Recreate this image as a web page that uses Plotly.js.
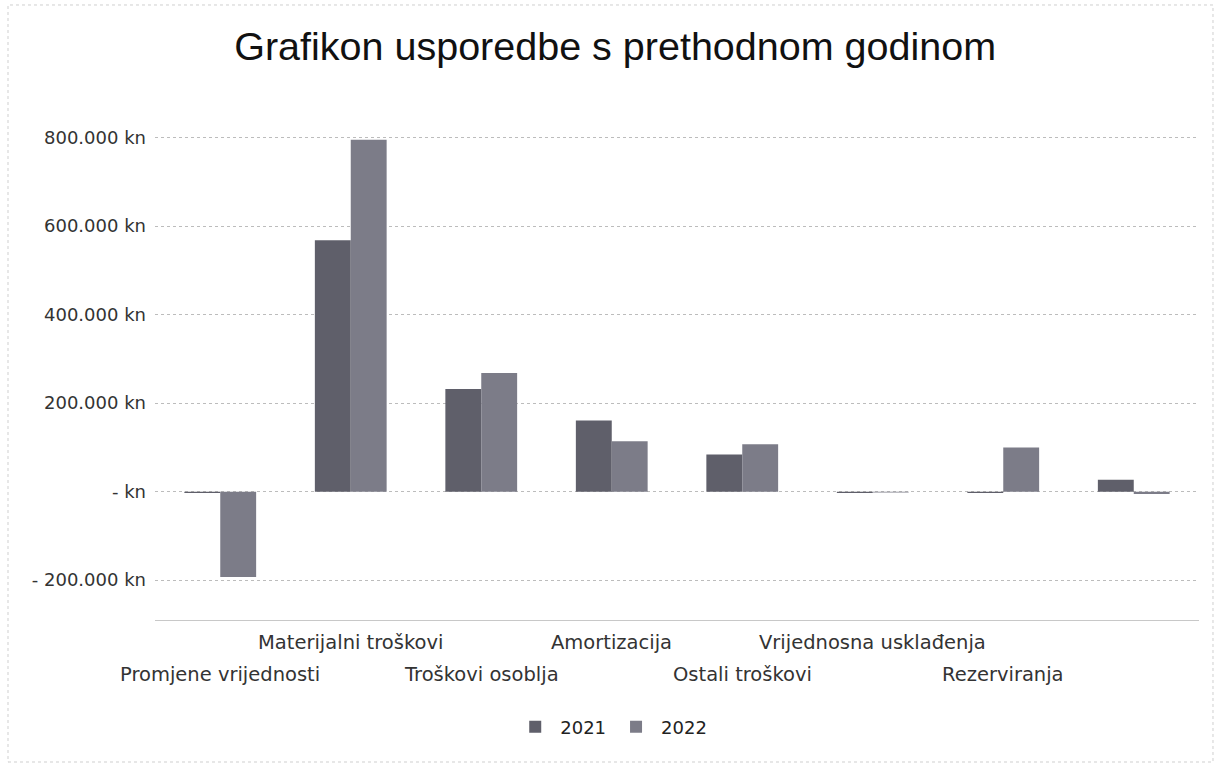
<!DOCTYPE html>
<html>
<head>
<meta charset="utf-8">
<script src="https://cdn.plot.ly/plotly-3.0.1.min.js"></script>
<style>html,body{margin:0;padding:0;background:#fff;}#chart{width:1223px;height:770px;}</style>
</head>
<body>
<div id="chart"></div>
<script>
const categories = ["Promjene vrijednosti","Materijalni troškovi","Troškovi osoblja","Amortizacija","Ostali troškovi","Vrijednosna usklađenja","Rezerviranja",""];
const values2021 = [-3000, 568000, 232000, 161000, 84000, -3000, -3000, 27000];
const values2022 = [-193000, 795000, 268000, 114000, 107000, -2000, 100000, -5000];
const tickValues = [-200000, 0, 200000, 400000, 600000, 800000];
const tickLabels = ["- 200.000 kn", "- kn", "200.000 kn", "400.000 kn", "600.000 kn", "800.000 kn"];
const seriesNames = ["2021", "2022"];

const idx = categories.map((_, i) => i);

const traces = [
  {type:'bar', name:seriesNames[0], x:idx, y:values2021, marker:{color:'#5f5f6a'}, hoverinfo:'y'},
  {type:'bar', name:seriesNames[1], x:idx, y:values2022, marker:{color:'#7c7c88'}, hoverinfo:'y'}
];

const labelRows = [-0.112, -0.045];
const annotations = categories.map((c, i) => ({
  text: c, x: i, xref:'x', yref:'paper', y: labelRows[i%2],
  showarrow:false, xanchor:'center', yanchor:'middle',
  font:{family:'DejaVu Sans', size:19.5, color:'#333'}
})).filter(a => a.text !== "");

const layout = {
  width:1223, height:770,
  margin:{l:155, r:24, t:131, b:150},
  paper_bgcolor:'#fff', plot_bgcolor:'#fff',
  title:{text:'Grafikon usporedbe s prethodnom godinom', x:0.503, xanchor:'center', y:0.94, yanchor:'middle',
         font:{family:'Liberation Sans, Arial', size:39.5, color:'#111'}},
  barmode:'group', bargap:0.45, bargroupgap:0,
  xaxis:{type:'linear', range:[-0.5, 7.5], showticklabels:false, ticks:'', showgrid:false, zeroline:false,
         showline:true, linecolor:'#c8c8c8', linewidth:1},
  yaxis:{range:[-290000, 815000], tickvals:tickValues, ticktext:tickLabels, ticks:'',
         showgrid:true, gridcolor:'#bcbcbc', griddash:'dot', gridwidth:1, zeroline:false, showline:false,
         ticklabelstandoff:8,
         tickfont:{family:'DejaVu Sans', size:18, color:'#333'}},
  legend:{orientation:'h', x:0.437, xanchor:'center', y:-0.219, yanchor:'middle',
          font:{family:'DejaVu Sans', size:18, color:'#222'}, itemwidth:40},
  annotations: annotations,
  shapes:[{type:'rect', xref:'paper', yref:'paper', x0:-0.1408, x1:1.0134, y0:-0.2904, y1:1.2577,
           line:{color:'#cfcfcf', width:1, dash:'dot'}, fillcolor:'rgba(0,0,0,0)'}],
  showlegend:true
};

Plotly.newPlot('chart', traces, layout, {displayModeBar:false, staticPlot:true});
</script>
</body>
</html>
